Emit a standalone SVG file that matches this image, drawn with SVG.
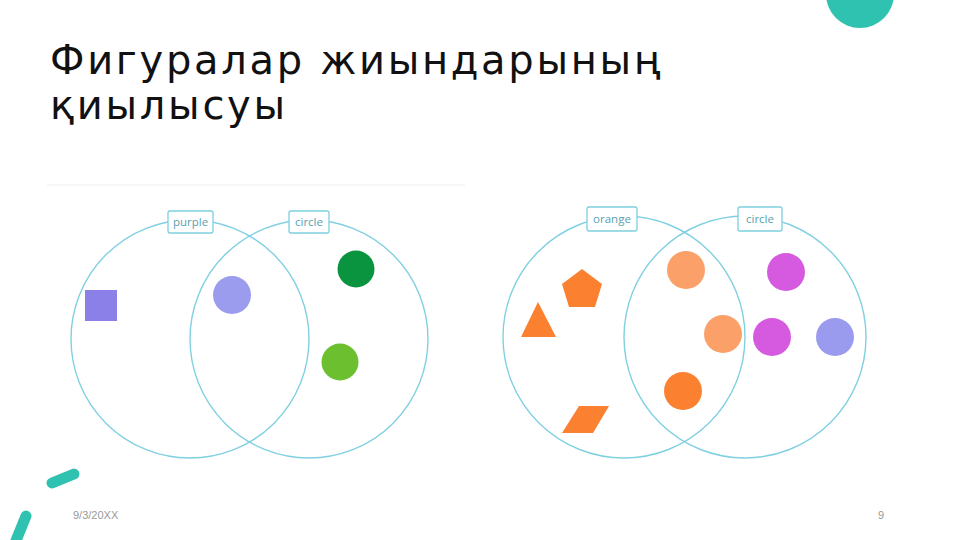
<svg xmlns="http://www.w3.org/2000/svg" width="960" height="540" viewBox="0 0 960 540">
<style>
.title{font-family:"DejaVu Sans",sans-serif;font-size:40px;fill:#111;letter-spacing:2.7px}
.venn{fill:none;stroke:#80d0e2;stroke-width:1.4}
.lbl{fill:#fff;stroke:#7dcfe0;stroke-width:1.3}
.lt{font-family:"Open Sans","DejaVu Sans",sans-serif;font-size:11.5px;fill:#5a9fb2;text-anchor:middle}
.foot{font-family:"Liberation Sans",sans-serif;font-size:11px;fill:#999}
.teal{fill:#30c2b0}
.tstroke{stroke:#30c2b0;stroke-width:11;stroke-linecap:round;fill:none}
</style>
<rect width="960" height="540" fill="#fff"/>
<circle class="teal" cx="860" cy="-6" r="34"/>
<path class="tstroke" d="M52 483 L74 474"/>
<path class="tstroke" d="M26 516 L13 548"/>
<text class="title" x="50" y="74">Фигуралар жиындарының</text>
<text class="title" x="50" y="119">қиылысуы</text>
<line x1="47" y1="185" x2="465" y2="185" stroke="#f3f3f3" stroke-width="1.5"/>
<g id="venn-left">
<circle class="venn" cx="190" cy="339" r="119"/>
<circle class="venn" cx="309" cy="339" r="119"/>
<g id="label-purple"><rect class="lbl" x="168" y="211" width="45" height="22" rx="2"/><text class="lt" x="190.5" y="226">purple</text></g>
<g id="label-circle1"><rect class="lbl" x="289" y="211" width="40" height="22" rx="2"/><text class="lt" x="309" y="226">circle</text></g>
<g id="shape-square"><rect x="85" y="290" width="32" height="31" fill="#8b80e8"/></g>
<g id="shape-lav1"><circle cx="232" cy="295" r="19" fill="#9c9cef"/></g>
<g id="shape-dgreen"><circle cx="356" cy="269" r="18.5" fill="#0a9440"/></g>
<g id="shape-lgreen"><circle cx="340" cy="362" r="18.5" fill="#6cbf2e"/></g>
</g>
<g id="venn-right">
<circle class="venn" cx="624" cy="337" r="121"/>
<circle class="venn" cx="745" cy="337" r="121"/>
<g id="label-orange"><rect class="lbl" x="587" y="207" width="50" height="24" rx="2"/><text class="lt" x="612" y="223">orange</text></g>
<g id="label-circle2"><rect class="lbl" x="738" y="207" width="44" height="24" rx="2"/><text class="lt" x="760" y="223">circle</text></g>
<g id="shape-pentagon"><polygon points="582,269 602,284 595,307 569,307 562,284" fill="#fb8030"/></g>
<g id="shape-triangle"><polygon points="538,302 556,337 521,337" fill="#fb8030"/></g>
<g id="shape-parallelogram"><polygon points="579,406 609,406 593,433 562,433" fill="#fb8030"/></g>
<g id="shape-o1"><circle cx="686" cy="270" r="19" fill="#fba068"/></g>
<g id="shape-o2"><circle cx="723" cy="334" r="19" fill="#fba068"/></g>
<g id="shape-o3"><circle cx="683" cy="391" r="19" fill="#fb8030"/></g>
<g id="shape-m1"><circle cx="786" cy="272" r="19" fill="#d65ae0"/></g>
<g id="shape-m2"><circle cx="772" cy="337" r="19" fill="#d65ae0"/></g>
<g id="shape-lav2"><circle cx="835" cy="337" r="19" fill="#9a9aee"/></g>
</g>
<text class="foot" x="73" y="519">9/3/20XX</text>
<text class="foot" x="878" y="519">9</text>
</svg>
